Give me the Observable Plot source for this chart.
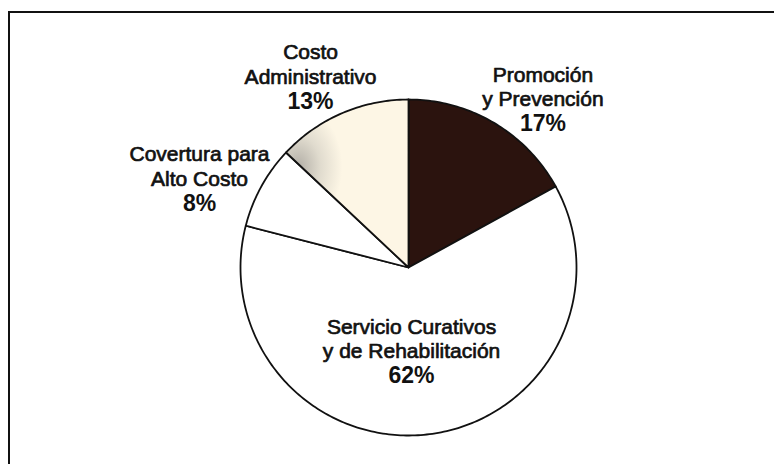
<!DOCTYPE html>
<html><head><meta charset="utf-8">
<script src="https://cdn.jsdelivr.net/npm/d3@7"></script>
<script src="https://cdn.jsdelivr.net/npm/@observablehq/plot@0.6"></script>
<style>
html,body{margin:0;padding:0;background:#fff;}
#wrap{position:relative;width:774px;height:464px;overflow:hidden;}
#frame{position:absolute;left:8px;top:11px;right:-4px;bottom:-4px;border-top:2px solid #111;border-left:2px solid #111;pointer-events:none;z-index:2;}
svg{display:block;}
</style></head><body>
<div id="wrap"><div id="frame"></div></div>
<script>
// ---- data ----
const categories = ["Promoción y Prevención", "Servicio Curativos y de Rehabilitación", "Covertura para Alto Costo", "Costo Administrativo"];
const nameLines = [["Promoción", "y Prevención"], ["Servicio Curativos", "y de Rehabilitación"], ["Covertura para", "Alto Costo"], ["Costo", "Administrativo"]];
const shares = [17, 62, 8, 13];
const pctLabels = ["17%", "62%", "8%", "13%"];

// ---- style / layout ----
const sliceFills = ["#2b130e", "#ffffff", "#ffffff", "url(#admGrad)"];
const labelAnchors = [[0.80, 1.006], [0.018, -0.494], [-1.244, 0.53], [-0.583, 1.137]];

const arcs = d3.pie().sort(null).value(d => d)(shares);
const slicePts = [];
arcs.forEach((a, i) => {
  slicePts.push({name: categories[i], x: 0, y: 0});
  const n = Math.max(2, Math.ceil((a.endAngle - a.startAngle) / (Math.PI / 180)));
  for (let k = 0; k <= n; k++) {
    const t = a.startAngle + (a.endAngle - a.startAngle) * k / n;
    slicePts.push({name: categories[i], x: Math.sin(t), y: Math.cos(t)});
  }
});

const labels = categories.map((c, i) => ({
  name: c, lines: nameLines[i].join("\n"), pct: pctLabels[i],
  x: labelAnchors[i][0], y: labelAnchors[i][1]
}));

const font = "'Liberation Sans', Arial, Helvetica, sans-serif";

const plot = Plot.plot({
  width: 774, height: 464,
  marginLeft: 240, marginRight: 198, marginTop: 99, marginBottom: 29,
  x: {domain: [-1, 1], axis: null},
  y: {domain: [-1, 1], axis: null},
  color: {domain: categories, range: sliceFills},
  style: {fontFamily: font, background: "transparent", color: "#111"},
  marks: [
    Plot.line(slicePts, {x: "x", y: "y", z: "name", fill: "name", stroke: "#111", strokeWidth: 1.8, curve: "linear-closed", strokeLinejoin: "round"}),
    Plot.text(labels, {x: "x", y: "y", text: "lines", fontSize: 21, lineHeight: 1.19, dy: -12.5, fill: "#111", stroke: "#111", strokeWidth: 0.7}),
    Plot.text(labels, {x: "x", y: "y", text: "pct", fontSize: 23, fontWeight: "bold", dy: 25, fill: "#111"})
  ]
});

// gradient for the textured cream slice
const ns = "http://www.w3.org/2000/svg";
const defs = document.createElementNS(ns, "defs");
const rg = document.createElementNS(ns, "radialGradient");
rg.setAttribute("id", "admGrad");
rg.setAttribute("cx", "0.1"); rg.setAttribute("cy", "0.4"); rg.setAttribute("r", "0.36");
[["0", "#b3afa7"], ["0.5", "#e0dbce"], ["1", "#fdf6e5"]].forEach(([o, c]) => {
  const s = document.createElementNS(ns, "stop");
  s.setAttribute("offset", o); s.setAttribute("stop-color", c);
  rg.appendChild(s);
});
defs.appendChild(rg);
plot.insertBefore(defs, plot.firstChild);

document.getElementById("wrap").appendChild(plot);
</script>
</body></html>
